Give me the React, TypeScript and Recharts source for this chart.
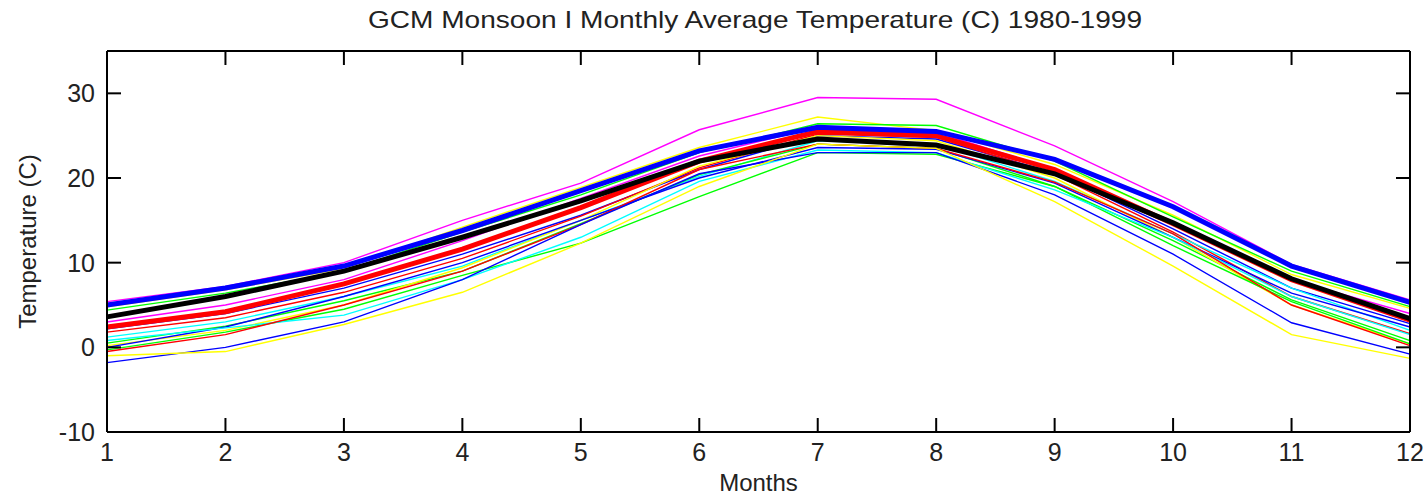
import React from 'react';
import { LineChart, Line, XAxis, YAxis } from 'recharts';

const months = [1, 2, 3, 4, 5, 6, 7, 8, 9, 10, 11, 12];
const yTicks = [-10, 0, 10, 20, 30];

// individual model runs (thin lines)
const runMagentaHigh = [5.4, 7.2, 10.0, 15.0, 19.4, 25.7, 29.5, 29.3, 23.8, 17.2, 9.8, 5.6];
const runYellowHigh = [4.8, 6.8, 9.3, 14.2, 18.9, 23.6, 27.2, 25.6, 21.6, 15.6, 8.6, 4.6];
const runGreenHigh = [4.4, 6.4, 9.0, 13.6, 18.0, 23.0, 26.4, 26.2, 22.0, 15.4, 9.0, 4.8];
const runMagentaMid = [3.0, 5.0, 8.0, 12.6, 17.6, 22.6, 26.0, 25.4, 21.0, 14.6, 8.0, 4.0];
const runBlueMid = [2.2, 4.0, 7.0, 11.0, 15.6, 21.0, 25.0, 24.6, 20.6, 14.0, 7.0, 2.8];
const runRedMid = [1.8, 3.5, 6.5, 10.5, 15.5, 21.2, 25.2, 24.8, 20.4, 13.6, 6.0, 1.6];
const runCyanMid = [1.2, 3.0, 6.0, 9.6, 15.0, 20.2, 24.4, 24.0, 19.6, 13.4, 7.0, 2.0];
const runGreenMid = [0.5, 2.5, 5.5, 9.0, 14.6, 20.4, 24.0, 23.5, 19.0, 12.6, 5.6, 0.8];
const runYellowMid = [0.2, 2.0, 5.0, 9.4, 15.0, 21.4, 25.0, 24.4, 20.0, 13.0, 5.0, 0.4];
const runBlueLow = [0.0, 2.4, 6.0, 10.0, 15.0, 20.0, 23.6, 23.4, 19.4, 13.0, 6.4, 2.4];
const runGreenLow = [-0.3, 1.8, 4.5, 8.5, 12.3, 17.8, 23.0, 22.8, 19.0, 12.0, 5.4, 0.4];
const runCyanLow = [0.8, 2.3, 3.8, 8.0, 13.0, 19.6, 23.3, 23.0, 18.6, 13.0, 6.0, 1.5];
const runRedLow = [-0.5, 1.5, 5.0, 9.0, 14.5, 21.0, 24.0, 23.5, 19.5, 13.4, 5.0, 0.2];
const runBlueLowest = [-1.8, 0.0, 3.0, 8.0, 14.5, 20.5, 23.0, 23.0, 18.0, 11.0, 2.9, -0.8];
const runYellowLowest = [-1.0, -0.5, 2.7, 6.5, 12.3, 19.0, 24.0, 23.5, 17.2, 9.6, 1.5, -1.3];

// thick summary lines
const meanRed = [2.4, 4.2, 7.5, 11.6, 16.5, 22.0, 25.5, 25.0, 21.0, 14.6, 8.0, 3.2];
const meanBlack = [3.6, 6.0, 9.0, 13.0, 17.3, 22.0, 24.6, 23.9, 20.5, 14.7, 8.1, 3.4];
const meanBlue = [5.0, 7.0, 9.6, 13.8, 18.5, 23.2, 26.0, 25.5, 22.2, 16.6, 9.6, 5.3];

const series = [
  { key: 'magentaHigh', values: runMagentaHigh, color: '#ff00ff', width: 1.4 },
  { key: 'yellowHigh', values: runYellowHigh, color: '#ffff00', width: 1.4 },
  { key: 'greenHigh', values: runGreenHigh, color: '#00ff00', width: 1.4 },
  { key: 'magentaMid', values: runMagentaMid, color: '#ff00ff', width: 1.4 },
  { key: 'blueMid', values: runBlueMid, color: '#0000ff', width: 1.4 },
  { key: 'redMid', values: runRedMid, color: '#ff0000', width: 1.4 },
  { key: 'cyanMid', values: runCyanMid, color: '#00ffff', width: 1.4 },
  { key: 'greenMid', values: runGreenMid, color: '#00ff00', width: 1.4 },
  { key: 'yellowMid', values: runYellowMid, color: '#ffff00', width: 1.4 },
  { key: 'blueLow', values: runBlueLow, color: '#0000ff', width: 1.4 },
  { key: 'greenLow', values: runGreenLow, color: '#00ff00', width: 1.4 },
  { key: 'cyanLow', values: runCyanLow, color: '#00ffff', width: 1.4 },
  { key: 'redLow', values: runRedLow, color: '#ff0000', width: 1.4 },
  { key: 'blueLowest', values: runBlueLowest, color: '#0000ff', width: 1.4 },
  { key: 'yellowLowest', values: runYellowLowest, color: '#ffff00', width: 1.4 },
  { key: 'meanRed', values: meanRed, color: '#ff0000', width: 5 },
  { key: 'meanBlack', values: meanBlack, color: '#000000', width: 5 },
  { key: 'meanBlue', values: meanBlue, color: '#0000ff', width: 5 },
];

const data = months.map((m, i) => {
  const row: Record<string, number> = { month: m };
  series.forEach((s) => {
    row[s.key] = s.values[i];
  });
  return row;
});

const font = '"Liberation Sans", Arial, sans-serif';
const tickStyle = { fontSize: 25, fill: '#222', fontFamily: font };
const blank = () => '';

export default function App() {
  return (
    <div style={{ position: 'absolute', left: 0, top: 0, width: 1427, height: 498, background: '#fff' }}>
      <svg width={1427} height={40} style={{ position: 'absolute', left: 0, top: 0 }}>
        <text
          x={755}
          y={28}
          textAnchor="middle"
          fontSize={24}
          fontFamily={font}
          fill="#222"
          textLength={774}
          lengthAdjust="spacingAndGlyphs"
        >
          GCM Monsoon I Monthly Average Temperature (C) 1980-1999
        </text>
      </svg>
      <LineChart width={1427} height={498} data={data} margin={{ top: 50, right: 16, left: 0, bottom: 0 }}>
        <XAxis
          xAxisId="bottom"
          dataKey="month"
          type="number"
          domain={[1, 12]}
          ticks={months}
          height={66}
          tickSize={-14}
          tickMargin={25}
          tick={tickStyle}
          stroke="#000"
          strokeWidth={2}
          label={{ value: 'Months', position: 'insideBottom', offset: 7, fontSize: 24, fill: '#222', fontFamily: font }}
        />
        <XAxis
          xAxisId="top"
          orientation="top"
          dataKey="month"
          type="number"
          domain={[1, 12]}
          ticks={months}
          height={1}
          tickSize={-14}
          tickFormatter={blank}
          stroke="#000"
          strokeWidth={2}
        />
        <YAxis
          yAxisId="left"
          type="number"
          domain={[-10, 35]}
          ticks={yTicks}
          width={107}
          tickSize={-14}
          tickMargin={26}
          tick={tickStyle}
          stroke="#000"
          strokeWidth={2}
          label={{ value: 'Temperature (C)', angle: -90, position: 'center', dx: -26, fontSize: 24, fill: '#222', fontFamily: font }}
        />
        <YAxis
          yAxisId="right"
          orientation="right"
          type="number"
          domain={[-10, 35]}
          ticks={yTicks}
          width={1}
          tickSize={-14}
          tickFormatter={blank}
          stroke="#000"
          strokeWidth={2}
        />
        {/* invisible series so the top and right box axes get drawn */}
        <Line
          xAxisId="top"
          yAxisId="right"
          dataKey="meanBlack"
          stroke="none"
          strokeOpacity={0}
          dot={false}
          activeDot={false}
          isAnimationActive={false}
        />
        {series.map((s) => (
          <Line
            key={s.key}
            xAxisId="bottom"
            yAxisId="left"
            type="linear"
            dataKey={s.key}
            stroke={s.color}
            strokeWidth={s.width}
            dot={false}
            isAnimationActive={false}
          />
        ))}
      </LineChart>
    </div>
  );
}
